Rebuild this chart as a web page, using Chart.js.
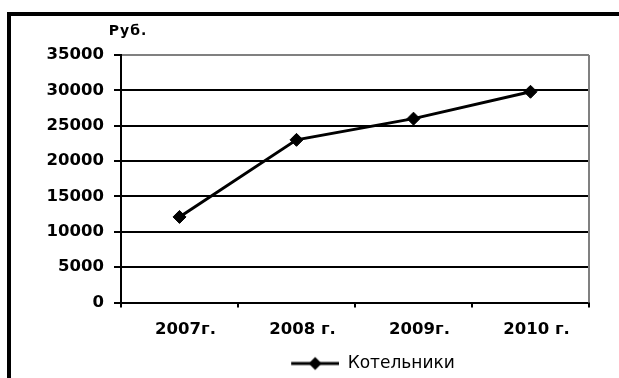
<!DOCTYPE html>
<html>
<head>
<meta charset="utf-8">
<script src="https://cdn.jsdelivr.net/npm/chart.js@4/dist/chart.umd.min.js"></script>
<style>
  html, body { margin: 0; padding: 0; background: #fff; }
  #wrap { position: relative; width: 619px; height: 378px; overflow: hidden; background: #fff; }
  #c { position: absolute; left: 0; top: 0; }
  #frame {
    position: absolute; left: 7px; top: 12px; width: 700px; height: 500px;
    border-left: 4px solid #000; border-top: 4px solid #000; pointer-events: none;
  }
</style>
</head>
<body>
<div id="wrap">
  <canvas id="c" width="619" height="378"></canvas>
  <div id="frame"></div>
</div>
<script>
// Years on the category axis
const categories = ['2007г.', '2008 г.', '2009г.', '2010 г.'];
// Series name shown in the legend
const seriesName = 'Котельники';
// Values in roubles per year
const rubValues = [12100, 23000, 26000, 29800];
// Value axis ticks
const yTickValues = [0, 5000, 10000, 15000, 20000, 25000, 30000, 35000];
// Unit caption above the value axis
const yUnit = 'Руб.';

const BOLD = { family: 'DejaVu Sans', size: 16.5, weight: 'bold' };

// Legend icon: short line with a diamond marker in the middle
function makeLegendIcon() {
  const pad = 36, w = 48, h = 16;
  const cv = document.createElement('canvas');
  cv.width = pad + w; cv.height = h;
  const g = cv.getContext('2d');
  g.strokeStyle = '#000'; g.lineWidth = 3;
  g.beginPath(); g.moveTo(pad, h / 2); g.lineTo(pad + w, h / 2); g.stroke();
  const cx = pad + w / 2, cy = h / 2, r = 6.5;
  g.fillStyle = '#000';
  g.beginPath();
  g.moveTo(cx, cy - r); g.lineTo(cx + r, cy); g.lineTo(cx, cy + r); g.lineTo(cx - r, cy);
  g.closePath(); g.fill();
  return cv;
}
const legendIcon = makeLegendIcon();

// Grey frame on the right side of the plot area, unit caption
const plotFrame = {
  id: 'plotFrame',
  beforeDatasetsDraw(chart) {
    const { ctx, chartArea: a } = chart;
    ctx.save();
    ctx.strokeStyle = '#808080';
    ctx.lineWidth = 2;
    ctx.beginPath();
    ctx.moveTo(Math.round(a.right), a.top);
    ctx.lineTo(Math.round(a.right), a.bottom);
    ctx.stroke();
    ctx.restore();
  },
  afterDraw(chart) {
    const { ctx, chartArea: a } = chart;
    ctx.save();
    ctx.fillStyle = '#000';
    ctx.font = 'bold 14px "DejaVu Sans"';
    ctx.letterSpacing = '1px';
    ctx.textAlign = 'center';
    ctx.textBaseline = 'alphabetic';
    ctx.fillText(yUnit, a.left + 7, 35);
    ctx.restore();
  }
};

new Chart(document.getElementById('c'), {
  type: 'line',
  data: {
    labels: categories,
    datasets: [{
      label: seriesName,
      data: rubValues,
      borderColor: '#000',
      backgroundColor: '#000',
      borderWidth: 3,
      pointStyle: 'rectRot',
      pointRadius: 6.5,
      pointBorderWidth: 1,
      pointBackgroundColor: '#000',
      pointBorderColor: '#000',
      tension: 0,
      fill: false
    }]
  },
  options: {
    responsive: false,
    animation: false,
    devicePixelRatio: 1,
    layout: { padding: { left: 0, right: 30, top: 55, bottom: -4 } },
    scales: {
      x: {
        type: 'category',
        offset: true,
        afterFit(scale) { scale.height = 52.5; },
        grid: {
          offset: true,
          drawOnChartArea: false,
          drawTicks: true,
          tickLength: 5,
          lineWidth: 2,
          color: '#000'
        },
        border: { display: true, color: '#000', width: 2 },
        ticks: { color: '#000', font: BOLD, padding: 12, labelOffset: 6, maxRotation: 0 }
      },
      y: {
        min: 0,
        max: 35000,
        afterFit(scale) { scale.width = 121; },
        afterBuildTicks(scale) { scale.ticks = yTickValues.map(v => ({ value: v })); },
        grid: {
          color: c => (c.tick && c.tick.value === 35000 ? '#808080' : '#000'),
          tickColor: '#000',
          lineWidth: 2,
          tickLength: 7,
          drawTicks: true
        },
        border: { display: true, color: '#000', width: 2 },
        ticks: { color: '#000', font: BOLD, padding: 10, callback: v => String(v) }
      }
    },
    plugins: {
      tooltip: { enabled: false },
      legend: {
        position: 'bottom',
        fullSize: false,
        labels: {
          color: '#000',
          font: { family: 'DejaVu Sans', size: 17 },
          usePointStyle: true,
          pointStyleWidth: 84,
          boxHeight: 16,
          padding: 0,
          generateLabels(chart) {
            const items = Chart.defaults.plugins.legend.labels.generateLabels(chart);
            items.forEach(it => { it.pointStyle = legendIcon; });
            return items;
          }
        }
      }
    }
  },
  plugins: [plotFrame]
});
</script>
</body>
</html>
